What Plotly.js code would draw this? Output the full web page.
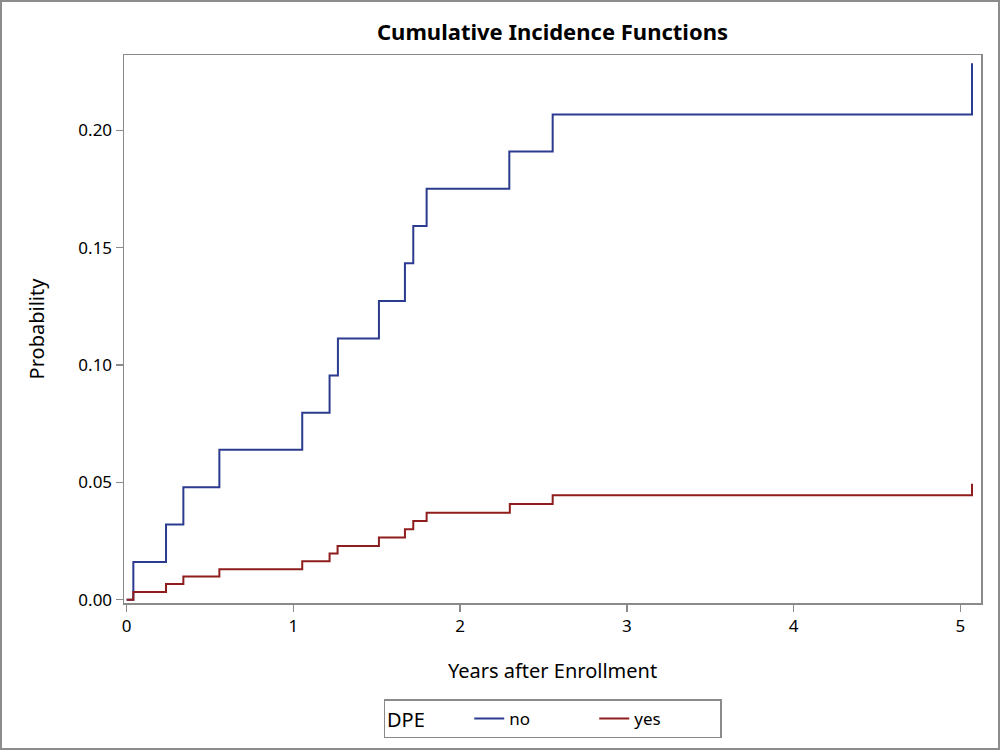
<!DOCTYPE html>
<html>
<head>
<meta charset="utf-8">
<script src="https://cdn.plot.ly/plotly-3.0.1.min.js"></script>
<style>
html,body{margin:0;padding:0;background:#fff;}
#wrap{position:relative;width:1000px;height:750px;}
#chart{width:1000px;height:750px;}
#frame{position:absolute;left:0;top:0;width:1000px;height:750px;box-sizing:border-box;border:2px solid #8c8c8c;pointer-events:none;}
</style>
</head>
<body>
<div id="wrap"><div id="chart"></div><div id="frame"></div></div>
<script>
// Years after enrollment (step times) and cumulative incidence
const noYears  = [0, 0.04, 0.236, 0.340, 0.556, 1.053, 1.217, 1.267, 1.513, 1.669, 1.719, 1.799, 2.295, 2.555, 5.07, 5.07];
const noProb   = [0, 0.0161, 0.0320, 0.0479, 0.0639, 0.0797, 0.0955, 0.1113, 0.1273, 0.1434, 0.1592, 0.1751, 0.1910, 0.2068, 0.2068, 0.2286];
const yesYears = [0, 0.04, 0.236, 0.340, 0.556, 1.053, 1.217, 1.265, 1.513, 1.669, 1.719, 1.799, 2.298, 2.555, 5.07, 5.07];
const yesProb  = [0, 0.0033, 0.0067, 0.0099, 0.0130, 0.0164, 0.0197, 0.0229, 0.0265, 0.0300, 0.0335, 0.0371, 0.0408, 0.0445, 0.0445, 0.0494];
const groupNames = ["no", "yes"];
const legendTitle = "DPE";
const chartTitle = "Cumulative Incidence Functions";
const xTitle = "Years after Enrollment";
const yTitle = "Probability";

const fontFam = "Noto Sans, Open Sans, sans-serif";
const traces = [
  {x: noYears, y: noProb, name: groupNames[0], mode: "lines", line: {shape: "hv", color: "#2b3b8f", width: 2}},
  {x: yesYears, y: yesProb, name: groupNames[1], mode: "lines", line: {shape: "hv", color: "#8f1d1d", width: 2}}
];
const layout = {
  width: 1000, height: 750,
  margin: {l: 124, r: 19, t: 55, b: 145},
  paper_bgcolor: "#fff", plot_bgcolor: "#fff",
  font: {family: fontFam, color: "#000", size: 17},
  title: {text: "<b>" + chartTitle + "</b>", x: 0.5, xref: "paper", xanchor: "center", y: 0.957, yref: "container", yanchor: "middle", font: {size: 22, family: fontFam}},
  xaxis: {
    range: [-0.016, 5.124], dtick: 1, tick0: 0, showgrid: false, zeroline: false,
    showline: true, mirror: true, linecolor: "#8a8a8a", linewidth: 1.5,
    ticks: "outside", ticklen: 7, tickcolor: "#8a8a8a", tickwidth: 1.5,
    tickfont: {size: 17},
    title: {text: xTitle, font: {size: 20}, standoff: 28}
  },
  yaxis: {
    range: [-0.0014, 0.2321], dtick: 0.05, tick0: 0, tickformat: ".2f", showgrid: false, zeroline: false,
    showline: true, mirror: true, linecolor: "#8a8a8a", linewidth: 1.5,
    ticks: "outside", ticklen: 7, tickcolor: "#8a8a8a", tickwidth: 1.5,
    tickfont: {size: 17},
    title: {text: yTitle, font: {size: 20}, standoff: 28}
  },
  showlegend: true,
  legend: {
    orientation: "h", x: 0.5, xanchor: "center", y: -0.176, yanchor: "top",
    bordercolor: "#8a8a8a", borderwidth: 1.5, bgcolor: "#fff",
    font: {size: 17}, title: {text: legendTitle + "       ", font: {size: 20}},
    entrywidth: 80, entrywidthmode: "pixels", tracegroupgap: 0
  }
};
Plotly.newPlot("chart", traces, layout, {displayModeBar: false, staticPlot: true});
</script>
</body>
</html>
